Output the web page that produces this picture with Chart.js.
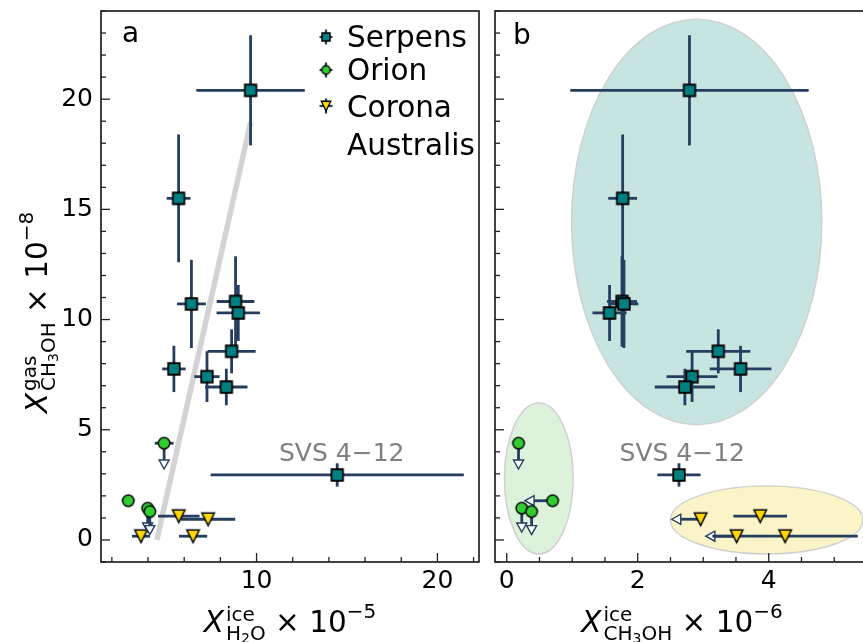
<!DOCTYPE html>
<html>
<head>
<meta charset="utf-8">
<title>Gas vs ice methanol</title>
<script src="https://cdn.jsdelivr.net/npm/chart.js@4.4.1/dist/chart.umd.min.js"></script>
<style>
  html, body { margin: 0; padding: 0; background: #fff; }
  #wrap { position: relative; width: 863px; height: 642px; overflow: hidden; }
  #wrap canvas { position: absolute; top: 0; }
</style>
</head>
<body>
<div id="wrap">
  <canvas id="panelA" width="486" height="642" style="left:0px"></canvas>
  <canvas id="panelB" width="400" height="642" style="left:485px"></canvas>
</div>
<script>
Chart.defaults.font.family = '"DejaVu Sans", sans-serif';
const BAR = '#253e60';
const INK = '#222';

// gas-phase CH3OH abundance (x 1e-8) - same y values in both panels
const serpensGas    = [20.4, 15.5, 10.82, 10.71, 10.3, 8.56, 7.76, 7.41, 6.94, 2.95];
const serpensGasErr = [2.5, 2.9, 2.05, 2.0, 1.27, 1.0, 1.05, 1.15, 0.83, 0.53];
// H2O ice (x 1e-5) and CH3OH ice (x 1e-6)
const serpensH2O      = [9.67, 5.69, 8.84, 6.4, 8.99, 8.62, 5.43, 7.26, 8.33, 14.46];
const serpensH2OErr   = [3.0, 0.66, 1.04, 0.8, 1.2, 1.33, 0.65, 0.7, 1.17, 7.0];
const serpensCH3OH    = [2.79, 1.77, 1.76, 1.79, 1.57, 3.23, 3.57, 2.83, 2.72, 2.63];
const serpensCH3OHErr = [1.82, 0.22, 0.23, 0.22, 0.26, 0.49, 0.47, 0.39, 0.46, 0.33];

const orionGas      = [4.39, 1.78, 1.44, 1.29];
const orionGasErr   = [1.17, 0, 1.08, 1.05];
const orionGasUL    = [true, false, true, true];
const orionH2O      = [4.89, 2.91, 3.98, 4.1];
const orionH2OErr   = [0.52, 0.32, 0, 0];
const orionCH3OH    = [0.18, 0.70, 0.23, 0.38];
const orionCH3OHErr = [0, 0.42, 0, 0];
const orionCH3OHUL  = [false, true, false, false];

const craGas      = [1.08, 0.94, 0.17, 0.17];
const craH2O      = [5.7, 7.32, 3.61, 6.49];
const craH2OErr   = [1.15, 1.5, 0.5, 0.78];
const craCH3OH    = [3.87, 2.96, 3.51, 4.25];
const craCH3OHErr = [0.41, 0.44, 0.47, 1.11];
const craCH3OHUL  = [false, true, true, false];

// trend line in panel a
const fitH2O = [4.49, 9.67];
const fitGas = [0, 18.94];

// region groupings in panel b (centre, full width / height, data units)
const groupCx = [2.90, 0.49, 3.97];
const groupCy = [14.43, 2.79, 0.91];
const groupW  = [3.82, 1.05, 2.94];
const groupH  = [18.4, 6.85, 3.09];
const groupFill = ['#c6e5e0', '#dcf2da', '#fcf4c9'];

const gasTicks = [0, 5, 10, 15, 20];
const h2oTicks = [10, 20];
const ch3ohTicks = [0, 2, 4];

function minorTicks(from, to, step, majors) {
  const out = [];
  for (let v = from; v <= to + 1e-9; v += step) {
    const r = Math.round(v * 100) / 100;
    if (!majors.includes(r)) out.push(r);
  }
  return out;
}
const gasMinor = minorTicks(-1, 24, 1, gasTicks);

// marker sprites used as point styles (and again in the legend)
function mark(shape, size, fill, lw) {
  const n = Math.ceil(size) + 8;
  const c = document.createElement('canvas');
  c.width = c.height = n;
  const g = c.getContext('2d'), m = n / 2, h = size / 2;
  g.beginPath();
  if (shape === 'square') g.rect(m - h, m - h, size, size);
  else if (shape === 'circle') g.arc(m, m, h, 0, 2 * Math.PI);
  else { g.moveTo(m - h, m - h); g.lineTo(m + h, m - h); g.lineTo(m, m + h); g.closePath(); }
  g.fillStyle = fill; g.fill();
  g.lineWidth = lw; g.strokeStyle = '#000'; g.stroke();
  return c;
}
const squareMark = mark('square', 11.5, '#008080', 1.8);
const circleMark = mark('circle', 11.5, '#32cd32', 1.5);
const triMark = mark('tri', 12.5, '#ffd700', 1.5);
const squareSmall = mark('square', 8, '#008080', 1.5);
const circleSmall = mark('circle', 8.5, '#32cd32', 1.3);
const triSmall = mark('tri', 9.5, '#ffd700', 1.3);

const pts = (xs, ys) => xs.map((x, i) => ({ x, y: ys[i] }));

function line(ctx, x0, y0, x1, y1) {
  ctx.beginPath(); ctx.moveTo(x0, y0); ctx.lineTo(x1, y1); ctx.stroke();
}
// open arrow head for upper limits, tip at (x, y), pointing along (dx, dy)
function arrowHead(ctx, x, y, dx, dy) {
  const L = 9, W = 5;
  ctx.save();
  ctx.beginPath();
  ctx.moveTo(x, y);
  ctx.lineTo(x - dx * L + dy * W, y - dy * L + dx * W);
  ctx.lineTo(x - dx * L - dy * W, y - dy * L - dx * W);
  ctx.closePath();
  ctx.fillStyle = '#fff'; ctx.fill();
  ctx.lineWidth = 1.4; ctx.strokeStyle = BAR; ctx.stroke();
  ctx.restore();
}

const errorBars = {
  id: 'errorBars',
  beforeDatasetDraw(chart, args) {
    const ds = chart.data.datasets[args.index];
    if (!ds.xErr && !ds.yErr) return;
    const { ctx, scales: { x: xs, y: ys } } = chart;
    ctx.save();
    ctx.strokeStyle = BAR; ctx.lineWidth = 2.8;
    ds.data.forEach((p, i) => {
      const px = xs.getPixelForValue(p.x), py = ys.getPixelForValue(p.y);
      const ex = ds.xErr ? ds.xErr[i] : 0, ey = ds.yErr ? ds.yErr[i] : 0;
      if (ex) {
        const x0 = xs.getPixelForValue(p.x - ex);
        if (ds.xUL && ds.xUL[i]) {
          line(ctx, px, py, x0 + 8, py);
          arrowHead(ctx, x0, py, -1, 0);
        } else {
          line(ctx, x0, py, xs.getPixelForValue(p.x + ex), py);
        }
      }
      if (ey) {
        const y0 = ys.getPixelForValue(p.y - ey);
        if (ds.yUL && ds.yUL[i]) {
          line(ctx, px, py, px, y0 - 8);
          arrowHead(ctx, px, y0, 0, 1);
        } else {
          line(ctx, px, y0, px, ys.getPixelForValue(p.y + ey));
        }
      }
    });
    ctx.restore();
  }
};

// frame, inward ticks and (optionally) the shaded groups
function axisFrame(xMajor, xMinor, withGroups) {
  return {
    id: 'axisFrame',
    beforeDatasetsDraw(chart) {
      const { ctx, chartArea: a, scales: { x, y } } = chart;
      ctx.save();
      if (withGroups) {
        groupCx.forEach((cx, i) => {
          const px = x.getPixelForValue(cx), py = y.getPixelForValue(groupCy[i]);
          const rx = Math.abs(x.getPixelForValue(cx + groupW[i] / 2) - px);
          const ry = Math.abs(y.getPixelForValue(groupCy[i] + groupH[i] / 2) - py);
          ctx.beginPath();
          ctx.ellipse(px, py, rx, ry, 0, 0, 2 * Math.PI);
          ctx.fillStyle = groupFill[i]; ctx.fill();
          ctx.lineWidth = 1.4; ctx.strokeStyle = '#cfcfcf'; ctx.stroke();
        });
      }
      ctx.strokeStyle = INK;
      ctx.lineWidth = 1.3;
      xMinor.forEach(v => line(ctx, x.getPixelForValue(v), a.bottom, x.getPixelForValue(v), a.bottom - 5));
      xMajor.forEach(v => line(ctx, x.getPixelForValue(v), a.bottom, x.getPixelForValue(v), a.bottom - 9));
      gasMinor.forEach(v => line(ctx, a.left, y.getPixelForValue(v), a.left + 5, y.getPixelForValue(v)));
      gasTicks.forEach(v => line(ctx, a.left, y.getPixelForValue(v), a.left + 9, y.getPixelForValue(v)));
      ctx.lineWidth = 1.7;
      ctx.strokeRect(a.left, a.top, a.width, a.height);
      ctx.restore();
    }
  };
}

// text with sub/superscripts: segments laid side by side, lines in a segment share the same x
const fontOf = p => `${p.it ? 'italic ' : ''}${p.s}px "DejaVu Sans"`;
function drawMath(ctx, segs, x, y) {
  const widths = segs.map(seg => Math.max(...seg.map(ln => ln.reduce((w, p) => {
    ctx.font = fontOf(p); return w + ctx.measureText(p.t).width + (p.k || 0);
  }, 0))));
  let cx = x - widths.reduce((a, b) => a + b, 0) / 2;
  ctx.fillStyle = '#000';
  ctx.textBaseline = 'alphabetic'; ctx.textAlign = 'left';
  segs.forEach((seg, i) => {
    seg.forEach(ln => {
      let lx = cx;
      ln.forEach(p => { ctx.font = fontOf(p); ctx.fillText(p.t, lx, y + (p.dy || 0)); lx += ctx.measureText(p.t).width + (p.k || 0); });
    });
    cx += widths[i];
  });
}
const titleX = [[{ t: 'X', s: 29.5, it: true, k: 2 }]];
const tail = e => [[[{ t: ' \u00d7 10', s: 29.5 }]], [[{ t: '\u2212' + e, s: 20, dy: -14 }]]];
const xTitleA = [titleX,
  [[{ t: 'ice', s: 20, dy: -11 }], [{ t: 'H', s: 20, dy: 8 }, { t: '2', s: 14, dy: 11 }, { t: 'O', s: 20, dy: 8 }]],
  ...tail('5')];
const xTitleB = [titleX,
  [[{ t: 'ice', s: 20, dy: -11 }], [{ t: 'CH', s: 20, dy: 8 }, { t: '3', s: 14, dy: 11 }, { t: 'OH', s: 20, dy: 8 }]],
  ...tail('6')];
const yTitle = [titleX,
  [[{ t: 'gas', s: 20, dy: -11 }], [{ t: 'CH', s: 20, dy: 8 }, { t: '3', s: 14, dy: 11 }, { t: 'OH', s: 20, dy: 8 }]],
  ...tail('8')];

function panelText(letter, letterPos, svsX, xTitle, withYTitle, withLegend) {
  return {
    id: 'panelText',
    afterDraw(chart) {
      const { ctx, chartArea: a, scales: { x, y } } = chart;
      ctx.save();
      ctx.fillStyle = '#000';
      ctx.font = '28px "DejaVu Sans"';
      ctx.textAlign = 'left'; ctx.textBaseline = 'alphabetic';
      ctx.fillText(letter, a.left + letterPos[0], a.top + letterPos[1]);

      ctx.fillStyle = '#808080';
      ctx.font = '25px "DejaVu Sans"';
      ctx.textAlign = 'center';
      ctx.fillText('SVS 4\u221212', x.getPixelForValue(svsX), y.getPixelForValue(3.56));

      drawMath(ctx, xTitle, (a.left + a.right) / 2, 632);
      if (withYTitle) {
        ctx.save();
        ctx.translate(47, (a.top + a.bottom) / 2 + 26);
        ctx.rotate(-Math.PI / 2);
        drawMath(ctx, yTitle, 0, 0);
        ctx.restore();
      }
      if (withLegend) {
        const sprites = [squareSmall, circleSmall, triSmall];
        const rowY = [37, 70, 106];
        const baselines = [[46.5], [80], [116.5, 154.5]];
        chart.data.datasets.slice(0, 3).forEach((ds, i) => {
          const mx = 326, my = rowY[i];
          ctx.strokeStyle = BAR; ctx.lineWidth = 2.2;
          line(ctx, mx - 6.5, my, mx + 6.5, my);
          line(ctx, mx, my - 7.5, mx, my + 7.5);
          const s = sprites[i];
          ctx.drawImage(s, mx - s.width / 2, my - s.height / 2);
          ctx.fillStyle = '#000';
          ctx.font = '29.5px "DejaVu Sans"';
          ctx.textAlign = 'left';
          ds.label.split('\n').forEach((t, j) => ctx.fillText(t, 347, baselines[i][j]));
        });
      }
      ctx.restore();
    }
  };
}

// fixed axis box sizes so the plot areas land where they should
function pinScale(s, size) {
  if (s.isHorizontal()) s.height = size; else s.width = size;
  s.paddingTop = s.paddingBottom = s.paddingLeft = s.paddingRight = 0;
}

function scales(xMin, xMax, xTicks, leftWidth, showYLabels) {
  const tickFont = { family: '"DejaVu Sans"', size: 25 };
  return {
    x: {
      type: 'linear', min: xMin, max: xMax,
      afterBuildTicks: s => { s.ticks = xTicks.map(v => ({ value: v })); },
      afterFit: s => pinScale(s, 80),
      grid: { display: false, drawTicks: false },
      border: { display: false },
      ticks: { font: tickFont, color: '#000', padding: 4, maxRotation: 0 }
    },
    y: {
      type: 'linear', min: -1, max: 24,
      afterBuildTicks: s => { s.ticks = gasTicks.map(v => ({ value: v })); },
      afterFit: s => pinScale(s, leftWidth),
      grid: { display: false, drawTicks: false },
      border: { display: false },
      ticks: { display: showYLabels, font: tickFont, color: '#000', padding: 8 }
    }
  };
}

const common = {
  responsive: false,
  animation: false,
  devicePixelRatio: 1,
  events: [],
  plugins: { legend: { display: false }, tooltip: { enabled: false } }
};

new Chart(document.getElementById('panelA'), {
  type: 'scatter',
  data: {
    datasets: [
      { label: 'Serpens', data: pts(serpensH2O, serpensGas), xErr: serpensH2OErr, yErr: serpensGasErr,
        pointStyle: squareMark, pointRadius: 7 },
      { label: 'Orion', data: pts(orionH2O, orionGas), xErr: orionH2OErr, yErr: orionGasErr, yUL: orionGasUL,
        pointStyle: circleMark, pointRadius: 7 },
      { label: 'Corona\nAustralis', data: pts(craH2O, craGas), xErr: craH2OErr,
        pointStyle: triMark, pointRadius: 7 },
      { label: 'trend', data: pts(fitH2O, fitGas), showLine: true, pointRadius: 0,
        borderColor: '#d3d3d3', borderWidth: 5.5 }
    ]
  },
  options: {
    ...common,
    layout: { padding: { top: 11, right: 7, left: 0, bottom: 0 }, autoPadding: false },
    scales: scales(1.4, 22.3, h2oTicks, 101, true)
  },
  plugins: [axisFrame(h2oTicks, minorTicks(2, 22, 2, h2oTicks), false), errorBars,
            panelText('a', [21, 31], 14.71, xTitleA, true, true)]
});

new Chart(document.getElementById('panelB'), {
  type: 'scatter',
  data: {
    datasets: [
      { label: 'Serpens', data: pts(serpensCH3OH, serpensGas), xErr: serpensCH3OHErr, yErr: serpensGasErr,
        pointStyle: squareMark, pointRadius: 7 },
      { label: 'Orion', data: pts(orionCH3OH, orionGas), xErr: orionCH3OHErr, xUL: orionCH3OHUL,
        yErr: orionGasErr, yUL: orionGasUL, pointStyle: circleMark, pointRadius: 7 },
      { label: 'Corona\nAustralis', data: pts(craCH3OH, craGas), xErr: craCH3OHErr, xUL: craCH3OHUL,
        pointStyle: triMark, pointRadius: 7 }
    ]
  },
  options: {
    ...common,
    layout: { padding: { top: 11, right: 16, left: 0, bottom: 0 }, autoPadding: false },
    scales: scales(-0.179, 5.531, ch3ohTicks, 10, false)
  },
  plugins: [axisFrame(ch3ohTicks, minorTicks(0, 5.5, 0.5, ch3ohTicks), true), errorBars,
            panelText('b', [18, 33], 2.68, xTitleB, false, false)]
});
</script>
</body>
</html>
